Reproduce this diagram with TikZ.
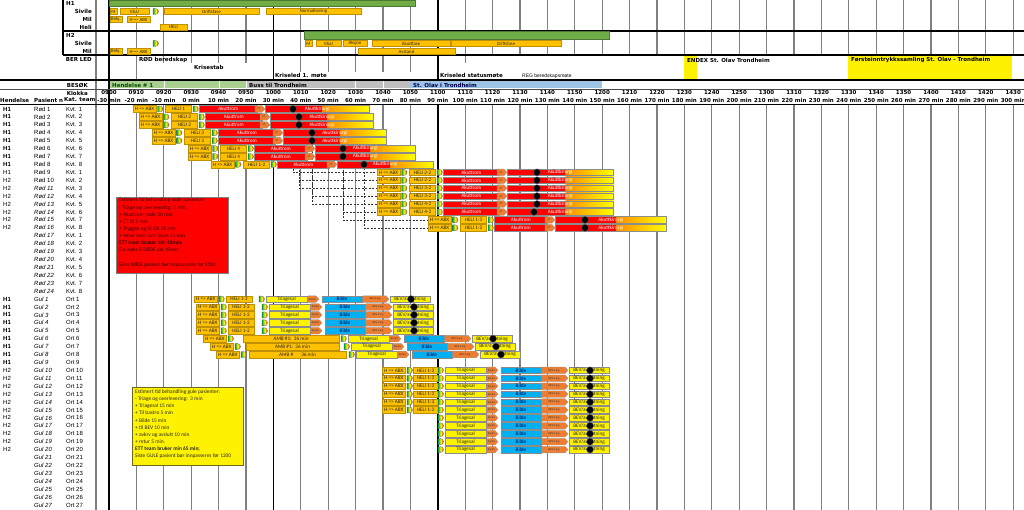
\documentclass[tikz,border=0pt]{standalone}
\usepackage{fontspec}
\setmainfont{Liberation Sans}
\newfontfamily\hdfont{DejaVu Sans}
\newfontfamily\barfont{Carlito}
\usetikzlibrary{calc}
\pgfdeclarelayer{bg}
\pgfsetlayers{bg,main}
\definecolor{gold}{HTML}{FFC000}
\definecolor{goldd}{HTML}{BF9000}
\definecolor{tago}{HTML}{ED7D31}
\definecolor{bilde}{HTML}{00B0F0}
\definecolor{grn}{HTML}{70AD47}
\definecolor{lgrn}{HTML}{A9D08E}
\definecolor{gry}{HTML}{BFBFBF}
\definecolor{lblu}{HTML}{9DC3E6}
\definecolor{icg}{HTML}{00A050}
\definecolor{gridc}{HTML}{808080}
\tikzset{
 hdr/.style={font=\hdfont\bfseries\fontsize{5.5}{6}\selectfont, inner sep=0pt},
 cell/.style={font=\fontsize{6}{7}\selectfont, inner sep=0pt, anchor=west},
 bx/.style={draw=goldd, fill=gold, line width=0.4pt, inner sep=0pt, outer sep=0pt, minimum height=6.6pt, font=\barfont\fontsize{5.2}{5.5}\selectfont, text=black!85},
 hbx/.style={bx, minimum height=6pt, font=\barfont\fontsize{4.8}{5}\selectfont},
 rbar/.style={bx, fill=red, draw=black!45, text=white},
 kbar/.style={rbar, path picture={\shade[left color=red, right color=yellow] ($(path picture bounding box.south west)!0.55!(path picture bounding box.south east)$) rectangle (path picture bounding box.north east);}},
 ybar/.style={bx, fill=yellow, draw=black!45},
 bbar/.style={bx, fill=bilde, draw=black!45, text=blue!35!black},
 gbar/.style={bx, fill=grn, draw=grn!70!black},
 dotn/.style={circle, fill=black, draw=black!60, line width=0.3pt, minimum size=7pt, inner sep=0pt},
 gridl/.style={draw=gridc, line width=1.1pt},
 blk/.style={draw=black, line width=1.6pt},
 note/.style={font=\barfont\fontsize{5.4}{7.15}\selectfont, inner sep=0pt, anchor=north west, align=left},
 besk/.style={inner sep=0pt, outer sep=0pt, minimum height=7pt},
}
\newcommand\seg[6]{\pgfmathsetmacro\segw{(#4)-(#3)}\pgfmathsetmacro\segx{#3}\node[#2, minimum width=\segw pt, anchor=west] (#1) at (\segx,#5) {#6};}
\newcommand\ico[2]{\pgfmathsetmacro\icx{#1}\begin{scope}[shift={(\icx,#2)}]\shadedraw[left color=icg, right color=red!90!orange, middle color=yellow, draw=black!60, line width=0.3pt] (0,-3) -- (2.5,-3) arc(-90:90:3) -- (0,3) -- cycle;\end{scope}}
\newcommand\tagsh[5]{\pgfmathsetmacro\tx{#2}\pgfmathsetmacro\tw{#4}%
 \filldraw[fill=tago, draw=black!40, line width=0.3pt] (\tx,#3-3.3) -- (\tx+\tw-3,#3-3.3) -- (\tx+\tw,#3) -- (\tx+\tw-3,#3+3.3) -- (\tx,#3+3.3) -- cycle;
 \node[font=\barfont\fontsize{2.8}{3}\selectfont, inner sep=0pt, text=black!80] (#1) at (\tx+\tw/2-1,#3) {#5};}
\newcommand\redrow[6]{%
 \pgfmathsetmacro\yc{109+7.92*#1}%
 \seg{ra#1}{bx}{#2}{#2+23}{\yc}{H => ABX}%
 \ico{#2+24.5}{\yc}%
 \seg{rh#1}{bx}{#2+32.5}{#2+58.5}{\yc}{#3}%
 \ico{#2+60}{\yc}%
 \seg{rr#1}{rbar}{#2+66.5}{#4+2}{\yc}{Akuttrom}%
 \tagsh{rt#1}{#4}{\yc}{10}{CT}%
 \seg{rk#1}{kbar}{#4+10.5}{#5}{\yc}{Akuttkirurgi}%
 \node[dotn] (rd#1) at (#6,\yc) {};}
\newcommand\gpre[5]{%
 \pgfmathsetmacro\yc{109+7.92*#1}%
 \seg{ga#1}{bx}{#2}{#2+23.5}{\yc}{H => ABX}%
 \ico{#2+25}{\yc}%
 \seg{gh#1}{bx}{#3}{#4}{\yc}{#5}}
\newcommand\gulrow[2]{%
 \pgfmathsetmacro\yc{109+7.92*#1}%
 \ico{#2-7}{\yc}%
 \seg{gt#1}{ybar}{#2}{#2+41}{\yc}{Triagesal}%
 \tagsh{gb#1}{#2+42}{\yc}{11}{bastro}%
 \seg{gi#1}{bbar}{#2+56}{#2+96}{\yc}{Bilde}%
 \tagsh{go#1}{#2+97}{\yc}{26}{BEV k.mg}%
 \seg{gv#1}{ybar}{#2+124}{#2+164}{\yc}{BEV/avslutning}%
 \node[dotn] (gd#1) at (#2+145,\yc) {};}
\begin{document}
\begin{tikzpicture}[x=1pt,y=-1pt]
\useasboundingbox (0,0) rectangle (1024,510);
\begin{pgfonlayer}{bg}
\fill[white] (0,0) rectangle (1024,510);
\foreach \j in {1,...,33}{
  \pgfmathsetmacro\gx{109+27.4*\j}
  \draw[gridl] (\gx,104) -- (\gx,510);
  \draw[gridl] (\gx,0) -- (\gx,55);
}
\foreach \j in {2,...,5,13,...,19}{
  \pgfmathsetmacro\gx{109+27.4*\j}
  \draw[gridl] (\gx,55) -- (\gx,63);
}
\foreach \j in {7,...,11}{
  \pgfmathsetmacro\gx{109+27.4*\j}
  \draw[gridl] (\gx,55) -- (\gx,72);
}
\draw[gridl] (136.4,55) -- (136.4,80);
\draw[gridl] (96,0) -- (96,510);
\foreach \j in {0,6,12}{
  \pgfmathsetmacro\gx{109+27.4*\j}
  \draw[blk] (\gx,0) -- (\gx,80);
  \draw[blk] (\gx,104) -- (\gx,510);
}
\draw[blk] (109,80) -- (109,104);
\end{pgfonlayer}
% frame lines
\draw[line width=1.3pt] (63,0) -- (63,55);
\draw[line width=1.3pt] (63,31) -- (1024,31);
\draw[line width=1.3pt] (63,55) -- (1024,55);
\draw[line width=1.6pt] (0,80) -- (1024,80);
\draw[line width=0.6pt, black!70] (0,89.5) -- (1024,89.5);
\draw[line width=0.9pt] (0,104) -- (1024,104);
% top labels
\node[hdr, anchor=west] (lh1) at (66,3.3) {H1};
\node[hdr, anchor=east] (ls1) at (92,11.5) {Sivile};
\node[hdr, anchor=east] (lm1) at (92,19.5) {Mil};
\node[hdr, anchor=east] (lhe) at (92,27.2) {Heli};
\node[hdr, anchor=west] (lh2) at (66,35.3) {H2};
\node[hdr, anchor=east] (ls2) at (92,43.5) {Sivile};
\node[hdr, anchor=east] (lm2) at (92,51.5) {Mil};
\node[hdr, anchor=east] (lber) at (92,59.5) {BER LED};
\node[hdr, anchor=east] (lbes) at (88,85) {BESØK};
\node[hdr, anchor=east] (lklo) at (88,93) {Klokka};
% H1 block
\seg{gH1}{gbar}{109}{415}{3.3}{}
\seg{h1m}{hbx}{110}{117}{11.5}{M}
\seg{h1v}{hbx}{120}{149}{11.5}{V\&U}
\ico{153}{11.5}
\seg{h1d}{hbx}{164}{259}{11.5}{Driftsfase}
\seg{h1n}{hbx}{266}{361}{11.5}{Normalisering}
\seg{h1b}{hbx}{110}{122}{19.5}{Bekj.}
\seg{h1a}{hbx}{127}{150}{19.5}{H => ABX}
\seg{h1h}{hbx}{160}{187}{27.2}{HELI}
% H2 block
\seg{gH2}{gbar, minimum height=7.4pt}{304}{609}{35.4}{}
\ico{153}{43.5}
\seg{h2m}{hbx}{305}{312}{43.5}{M}
\seg{h2v}{hbx}{316}{341}{43.5}{V\&U}
\seg{h2k}{hbx}{343}{367}{43.5}{Aksjon}
\seg{h2f}{hbx}{372}{450}{43.5}{Akuttfase}
\seg{h2d}{hbx}{451}{561}{43.5}{Driftsfase}
\seg{h2b}{hbx}{110}{122}{51.7}{Bekj.}
\seg{h2a}{hbx}{127}{150}{51.7}{H => ABX}
\seg{h2s}{hbx}{358}{455}{51.7}{Avstand}
% BER LED
\node[hdr, anchor=west] (ber1) at (139,60) {RØD beredskap};
\node[hdr, anchor=west] (ber2) at (194,67.5) {Krisestab};
\node[hdr, anchor=west] (ber3) at (275,76) {Kriseled 1. møte};
\node[hdr, anchor=west] (ber4) at (440,76) {Kriseled statusmøte};
\node[font=\fontsize{5}{6}\selectfont, inner sep=0pt, anchor=west] (ber5) at (522,76) {REG beredskapsmøte};
\fill[yellow] (684,56) rectangle (697,79);
\fill[yellow] (848,56) rectangle (1012,79);
\node[hdr, anchor=west] (ber6) at (687,60.5) {ENDEX St. Olav Trondheim};
\node[hdr, anchor=west] (ber7) at (851,60.5) {Førsteinntrykkssamling St. Olav - Trondheim};
% BESOK
\seg{bs1}{besk, fill=lgrn}{110}{163.5}{85}{}
\seg{bs2}{besk, fill=lgrn}{165}{218.5}{85}{}
\seg{bs3}{besk, fill=lgrn}{220}{245.5}{85}{}
\seg{bs4}{besk, fill=gry}{247}{410}{85}{}
\seg{bs5}{besk, fill=lblu}{410}{602}{85}{}
\draw[white, line width=0.6pt] (355,81.5) -- (355,88.5) (383,81.5) -- (383,88.5);
\node[hdr, anchor=west, text=green!30!black] (bt1) at (112,85) {Hendelse \# 1};
\node[hdr, anchor=west] (bt4) at (249,85) {Buss til Trondheim};
\node[hdr, anchor=west, text=blue!30!black] (bt5) at (413,85) {St. Olav i Trondheim};
% time header
\node[hdr, anchor=west] (hh1) at (0,100) {Hendelse};
\node[hdr, anchor=west] (hh2) at (34,100) {Pasient n};
\node[hdr, anchor=west] (hh3) at (64,100) {Kat. team};
\foreach \j in {0,...,33}{
  \pgfmathsetmacro\gx{109+27.4*\j}
  \pgfmathtruncatemacro\hh{9+floor(\j/6)}
  \pgfmathtruncatemacro\mm{mod(\j,6)}
  \pgfmathtruncatemacro\mn{10*\j-30}
  \node[hdr] (kl\j) at (\gx,93) {\ifnum\hh<10 0\fi\hh\mm0};
  \node[hdr] (mn\j) at (\gx,100) {\mn{} min};
}
% left labels
\foreach \i in {0,...,23}{
  \pgfmathsetmacro\yc{109+7.92*\i}
  \pgfmathtruncatemacro\n{\i+1}
  \pgfmathtruncatemacro\k{mod(\i,8)+1}
  \ifnum\i<10
    \node[cell] (pn\i) at (34,\yc) {Rød \n};
  \else
    \node[cell, font=\fontsize{6}{7}\selectfont\itshape] (pn\i) at (34,\yc) {Rød \n};
  \fi
  \node[cell] (kt\i) at (66,\yc) {Kvt. \k};
  \ifnum\i<8 \node[cell, font=\fontsize{6}{7}\selectfont\bfseries] (hd\i) at (3,\yc) {H1};\fi
  \ifnum\i=8 \node[cell] (hd\i) at (3,\yc) {H1};\fi
  \ifnum\i>8 \ifnum\i<16 \node[cell] (hd\i) at (3,\yc) {H2};\fi\fi
}
\foreach \i in {24,...,50}{
  \pgfmathsetmacro\yc{109+7.92*\i}
  \pgfmathtruncatemacro\n{\i-23}
  \node[cell, font=\fontsize{6}{7}\selectfont\itshape] (pn\i) at (34,\yc) {Gul \n};
  \node[cell] (kt\i) at (66,\yc) {Ort \n};
  \ifnum\i<33 \node[cell, font=\fontsize{6}{7}\selectfont\bfseries] (hd\i) at (3,\yc) {H1};\fi
  \ifnum\i>32 \ifnum\i<44 \node[cell] (hd\i) at (3,\yc) {H2};\fi\fi
}
% red patients
\redrow{0}{133}{HELI 1}{255}{369}{293}
\redrow{1}{139}{HELI 2}{260}{373}{299}
\redrow{2}{139}{HELI 2}{260}{373}{299}
\redrow{3}{152}{HELI 3}{273}{386}{312}
\redrow{4}{152}{HELI 3}{273}{386}{312}
\redrow{5}{188}{HELI 4}{305}{415}{343}
\redrow{6}{188}{HELI 4}{305}{415}{343}
\redrow{7}{211}{HELI 1-2}{327}{433}{364}
\redrow{8}{377}{HELI 2-2}{497}{613}{537}
\redrow{9}{377}{HELI 2-2}{497}{613}{537}
\redrow{10}{377}{HELI 3-2}{497}{613}{537}
\redrow{11}{377}{HELI 3-2}{497}{613}{537}
\redrow{12}{377}{HELI 4-2}{497}{613}{537}
\redrow{13}{377}{HELI 4-2}{497}{613}{534}
\redrow{14}{428}{HELI 1-3}{545}{666}{585}
\redrow{15}{428}{HELI 1-3}{545}{666}{585}
\begin{pgfonlayer}{bg}
\foreach \a/\b in {0/8,1/9,2/10,3/11,4/12,5/13,6/14,7/15}
  \draw[dashed, black!80, line width=0.5pt, dash pattern=on 2pt off 1.5pt] (rd\a) |- (ra\b.west);
\end{pgfonlayer}
% yellow patients
\gpre{24}{194}{226}{252}{HELI 1-2}\gulrow{24}{266}
\foreach \i in {25,...,28}{\gpre{\i}{196}{228}{254}{HELI 1-2}\gulrow{\i}{269}}
\gpre{29}{203}{243}{339}{AMB \#1:\ \ 36 min}\gulrow{29}{348}
\gpre{30}{210}{246}{339}{AMB \#1:\ \ 36 min}\gulrow{30}{351}
\gpre{31}{216}{249}{346}{AMB \#\hspace{8pt}36 min}\gulrow{31}{356}
\foreach \i in {33,...,38}{\gpre{\i}{382}{413}{438}{HELI 1-3}\gulrow{\i}{445}}
\foreach \i in {39,...,43}{\gulrow{\i}{445}}
% notes
\node[draw=black!50, fill=red, line width=0.6pt, minimum width=112pt, minimum height=76pt, anchor=north west, inner sep=0pt] (redbox) at (116,197) {};
\node[note, text=black!80!red] (rednote) at (119,198) {Estimert tid behandling røde pasienter:\\- Triage og overlevering: 3 min\\+ Akuttrom maks 20 min\\+ CT til 5 min\\+ Trygges og til OR 15 min\\+ Retur som tom skum 15 min\\\textbf{ETT team bruker min 60min;}\\Du maks 8 RØDE per tilsvar\\[7.15pt]Siste RØDE pasient bør innpasseres før 1100};
\node[draw=olive!70!black, fill=yellow, line width=0.6pt, minimum width=111pt, minimum height=78pt, anchor=north west, inner sep=0pt] (yelbox) at (132,387) {};
\node[note, text=black!85] (yelnote) at (135,389.5) {Estimert tid behandling gule pasienter:\\- Triage og overlevering:\ \ 3 min\\+ Triagesal 15 min\\+ Til bastro 5 min\\+ Bilde 15 min\\+ til BEV 10 min\\+ avkrv og avslutt 10 min\\+ retur 5 min.\\\textbf{ETT team bruker min 65 min;}\\Siste GULE pasient bør innpasseres før 1200};
\end{tikzpicture}
\end{document}
